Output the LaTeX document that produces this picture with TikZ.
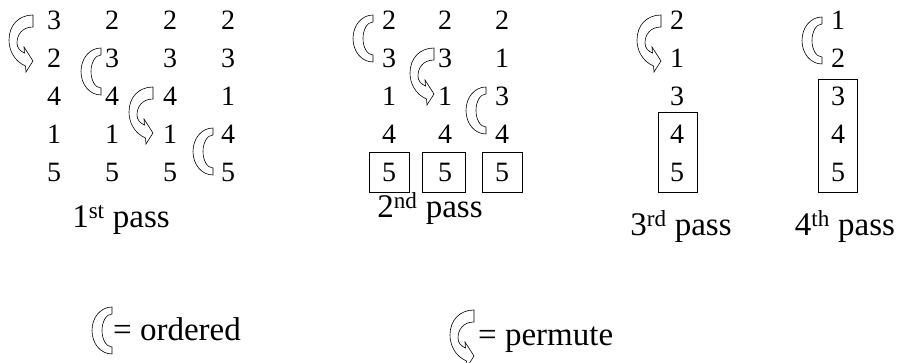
\documentclass[tikz,border=0pt]{standalone}
\usepackage{fontspec}
\setmainfont{Liberation Serif}
\begin{document}
\begin{tikzpicture}[x=1pt,y=-1pt,
  digit/.style={font=\fontsize{28}{30}\selectfont, inner sep=0pt},
  passlabel/.style={font=\fontsize{33}{35}\selectfont, inner sep=0pt, anchor=base},
  legendtext/.style={font=\fontsize{33}{35}\selectfont, inner sep=0pt, anchor=base west},
  frame/.style={draw, line width=0.7pt, inner sep=0pt},
  shapeline/.style={draw, line width=0.6pt, fill=white, line join=miter},
  orderedarrow/.pic={
    \path[shapeline] (0,0) .. controls (-11,0) and (-20,10) .. (-20,23.5)
      .. controls (-20,37) and (-11,47) .. (0,47) -- (0,40)
      .. controls (-6,40) and (-10,32) .. (-10,23.5)
      .. controls (-10,15) and (-6,7) .. (0,7) -- cycle;
  },
  permutearrow/.pic={
    \path[shapeline] (0,0) -- (0,12)
      .. controls (-11,12) and (-16,20) .. (-16,28)
      .. controls (-16,33) and (-13,36) .. (-8.5,38)
      -- (-9,32) -- (0,46) -- (-7,57) -- (-7.5,51)
      .. controls (-19,46) and (-24,35) .. (-24,25)
      .. controls (-24,10) and (-14,0) .. (0,0) -- cycle;
  }]
\useasboundingbox (0,0) rectangle (898,363);

% boxes (drawn first)
\node[frame, minimum width=40pt, minimum height=40pt] (b21) at (389,172) {};
\node[frame, minimum width=43pt, minimum height=40pt] (b22) at (443.5,172) {};
\node[frame, minimum width=40pt, minimum height=40pt] (b23) at (502,172) {};
\node[frame, minimum width=39pt, minimum height=80pt] (b3) at (677.5,152) {};
\node[frame, minimum width=39pt, minimum height=113pt] (b4) at (837.5,135.5) {};

% pass 1
\foreach \v [count=\i] in {3,2,4,1,5} \node[digit] (a1\i) at (54,{20+38*(\i-1)}) {\v};
\foreach \v [count=\i] in {2,3,4,1,5} \node[digit] (a2\i) at (112,{20+38*(\i-1)}) {\v};
\foreach \v [count=\i] in {2,3,4,1,5} \node[digit] (a3\i) at (170,{20+38*(\i-1)}) {\v};
\foreach \v [count=\i] in {2,3,1,4,5} \node[digit] (a4\i) at (228,{20+38*(\i-1)}) {\v};
% pass 2
\foreach \v [count=\i] in {2,3,1,4,5} \node[digit] (c1\i) at (389,{20+38*(\i-1)}) {\v};
\foreach \v [count=\i] in {2,3,1,4,5} \node[digit] (c2\i) at (445,{20+38*(\i-1)}) {\v};
\foreach \v [count=\i] in {2,1,3,4,5} \node[digit] (c3\i) at (502,{20+38*(\i-1)}) {\v};
% pass 3
\foreach \v [count=\i] in {2,1,3,4,5} \node[digit] (d1\i) at (677,{20+38*(\i-1)}) {\v};
% pass 4
\foreach \v [count=\i] in {1,2,3,4,5} \node[digit] (e1\i) at (838,{20+38*(\i-1)}) {\v};

% arrows
\pic at (33,15) {permutearrow};
\pic at (101,48) {orderedarrow};
\pic at (153,87) {permutearrow};
\pic at (213,128) {orderedarrow};
\pic at (373,15) {orderedarrow};
\pic at (434,48) {permutearrow};
\pic at (486,87) {orderedarrow};
\pic at (661,15) {permutearrow};
\pic at (822,17) {orderedarrow};

% labels
\node[passlabel] (l1) at (121,228) {1\textsuperscript{st} pass};
\node[passlabel] (l2) at (430,218) {2\textsuperscript{nd} pass};
\node[passlabel] (l3) at (681,236) {3\textsuperscript{rd} pass};
\node[passlabel] (l4) at (845,236) {4\textsuperscript{th} pass};

% legend
\pic at (112,307) {orderedarrow};
\node[legendtext] (lo) at (113,341) {= ordered};
\pic at (474,310) {permutearrow};
\node[legendtext] (lp) at (478,346) {= permute};
\end{tikzpicture}
\end{document}
